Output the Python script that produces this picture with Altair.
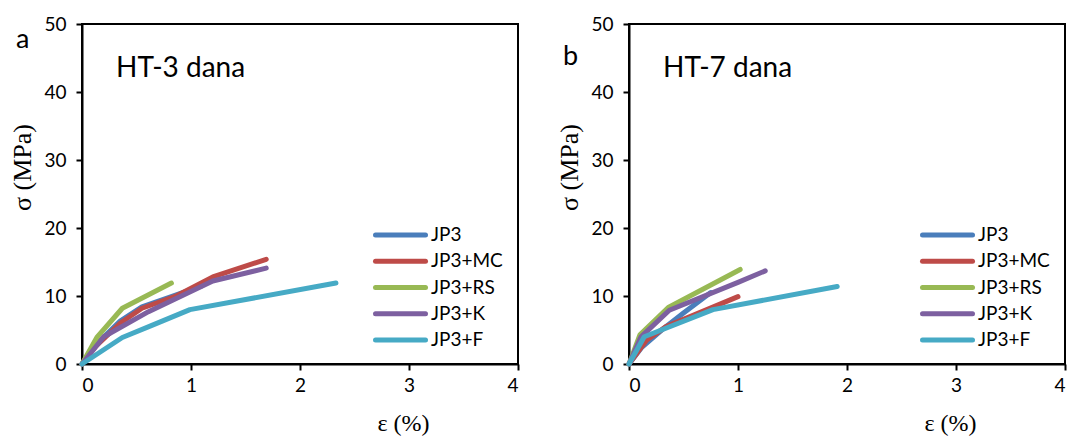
import altair as alt
import pandas as pd

series = ["JP3", "JP3+MC", "JP3+RS", "JP3+K", "JP3+F"]
colors = ["#4A7EBB", "#BE4B48", "#98B954", "#7D60A0", "#46AAC5"]

# Panel a: HT-3 dana
a_jp3_x = [0, 0.15, 0.35, 0.55, 0.8, 1.1]
a_jp3_y = [0, 3.2, 6.3, 8.4, 9.8, 11.5]
a_mc_x = [0, 0.12, 0.35, 0.55, 0.85, 1.2, 1.69]
a_mc_y = [0, 2.5, 6.0, 8.2, 9.9, 12.8, 15.4]
a_rs_x = [0, 0.14, 0.37, 0.82]
a_rs_y = [0, 4.0, 8.2, 11.9]
a_k_x = [0, 0.2, 0.61, 1.2, 1.69]
a_k_y = [0, 4.0, 7.7, 12.2, 14.1]
a_f_x = [0, 0.37, 0.63, 0.99, 2.33]
a_f_y = [0, 3.9, 5.6, 8.0, 11.9]

# Panel b: HT-7 dana
b_jp3_x = [0, 0.12, 0.3, 0.5, 0.75]
b_jp3_y = [0, 2.5, 5.0, 7.5, 10.5]
b_mc_x = [0, 0.16, 0.34, 1.0]
b_mc_y = [0, 3.5, 5.5, 9.9]
b_rs_x = [0, 0.1, 0.36, 1.02]
b_rs_y = [0, 4.3, 8.3, 13.9]
b_k_x = [0, 0.11, 0.37, 1.0, 1.25]
b_k_y = [0, 4.0, 7.9, 12.0, 13.7]
b_f_x = [0, 0.14, 0.77, 1.91]
b_f_y = [0, 4.0, 8.0, 11.4]

x_ticks = [0, 1, 2, 3, 4]
y_ticks = [0, 10, 20, 30, 40, 50]

LABEL_FONT = "Lato"
W = 436
H = 340


def panel(xs_list, ys_list, title, letter, letter_y):
    rows = []
    for s, xs, ys in zip(series, xs_list, ys_list):
        for i, (x, y) in enumerate(zip(xs, ys)):
            rows.append({"series": s, "x": x, "y": y, "i": i})
    df = pd.DataFrame(rows)

    color_enc = alt.Color("series:N", scale=alt.Scale(domain=series, range=colors),
                          legend=None)

    lines = alt.Chart(df).mark_line(
        strokeWidth=5, strokeCap="round", strokeJoin="round"
    ).encode(
        x=alt.X("x:Q", scale=alt.Scale(domain=[0, 4], nice=False),
                axis=alt.Axis(values=x_ticks, title="ε (%)", format="d",
                              titleX=321, titleY=71, titleBaseline="bottom",
                              titleAlign="center", titleFontSize=24,
                              labelPadding=6)),
        y=alt.Y("y:Q", scale=alt.Scale(domain=[0, 50], nice=False),
                axis=alt.Axis(values=y_ticks, title="σ (MPa)", format="d",
                              titleX=-60, titleY=143, titleAlign="center",
                              titleBaseline="middle", titleFontSize=26,
                              labelPadding=10)),
        color=color_enc,
        order="i:Q",
    )

    # legend drawn inside the plot area
    ldf_leg = pd.DataFrame({"series": series})
    leg_y = alt.Y("series:N", scale=alt.Scale(type="point", domain=series,
                                              range=[211, 316], padding=0),
                  axis=None)
    leg_rules = alt.Chart(ldf_leg).mark_rule(strokeWidth=5, strokeCap="round").encode(
        x=alt.value(293.5), x2=alt.value(343.5), y=leg_y, color=color_enc)
    leg_text = alt.Chart(ldf_leg).mark_text(
        font=LABEL_FONT, fontSize=19, align="left", baseline="middle", color="black"
    ).encode(x=alt.value(349), y=leg_y, text="series:N")

    tdf = pd.DataFrame({"t": [title]})
    ttl = alt.Chart(tdf).mark_text(
        font=LABEL_FONT, fontSize=28, align="left", baseline="alphabetic", color="black"
    ).encode(text="t:N", x=alt.value(34), y=alt.value(53))

    ldf = pd.DataFrame({"t": [letter]})
    let = alt.Chart(ldf).mark_text(
        font=LABEL_FONT, fontSize=27, align="left", baseline="alphabetic", color="black"
    ).encode(text="t:N", x=alt.value(-66), y=alt.value(letter_y))

    return alt.layer(lines, leg_rules, leg_text, ttl, let).resolve_scale(
        y="independent").properties(width=W, height=H)


left = panel([a_jp3_x, a_mc_x, a_rs_x, a_k_x, a_f_x],
             [a_jp3_y, a_mc_y, a_rs_y, a_k_y, a_f_y], "HT-3 dana", "a", 24)
right = panel([b_jp3_x, b_mc_x, b_rs_x, b_k_x, b_f_x],
              [b_jp3_y, b_mc_y, b_rs_y, b_k_y, b_f_y], "HT-7 dana", "b", 41)

chart = alt.hconcat(left, right, spacing=35).properties(
    padding={"left": 0, "top": 6, "right": 0, "bottom": 0}
).configure_view(
    stroke="black", strokeWidth=2
).configure_axis(
    grid=False, domainColor="black", domainWidth=2, tickColor="black", tickWidth=2,
    tickSize=6, labelFont=LABEL_FONT, labelFontSize=19, labelColor="black",
    titleFont="Liberation Serif", titleFontWeight="normal", titleColor="black"
)

chart.save("out.html", embed_options={"renderer": "svg", "actions": False})
